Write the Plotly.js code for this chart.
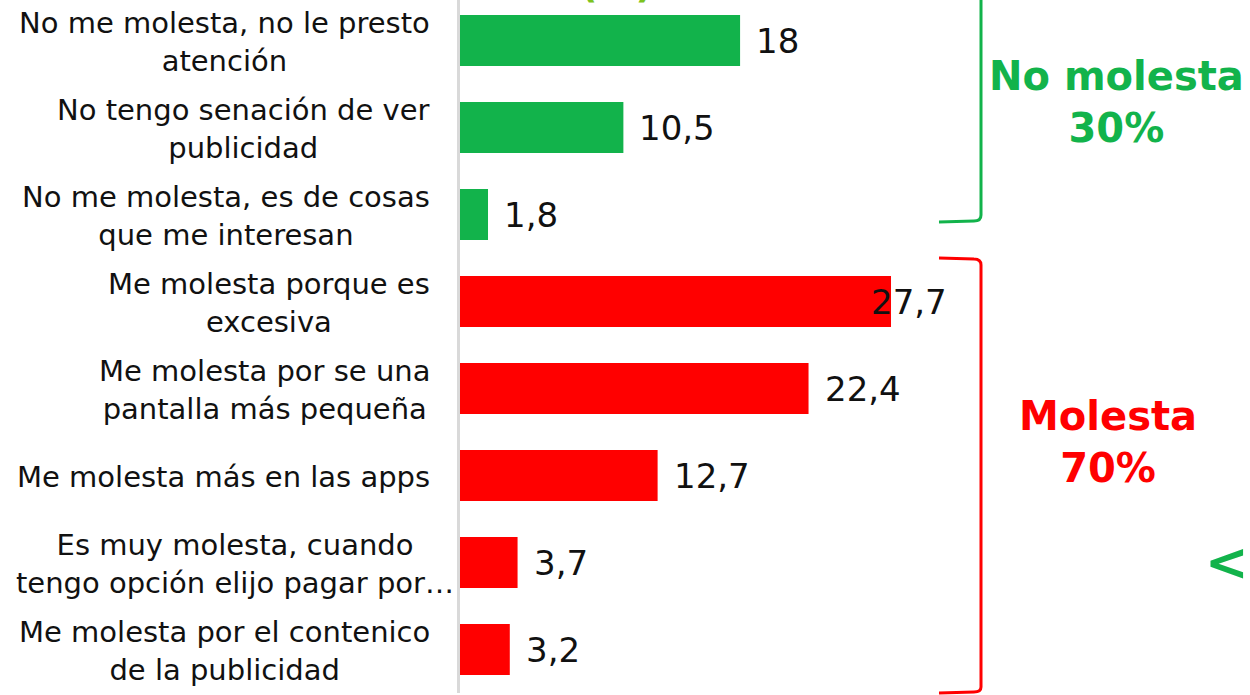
<!DOCTYPE html>
<html>
<head>
<meta charset="utf-8">
<script src="https://cdn.plot.ly/plotly-3.0.1.min.js"></script>
<style>
html,body{margin:0;padding:0;background:#fff;overflow:hidden;}
#chart{width:1250px;height:695px;}
</style>
</head>
<body>
<div id="chart"></div>
<script>
// ---- data ----
const categories = [
  "No me molesta, no le presto<br>atención",
  "No tengo senación de ver<br>publicidad",
  "No me molesta, es de cosas<br>que me interesan",
  "Me molesta porque es<br>excesiva",
  "Me molesta por se una<br>pantalla más pequeña",
  "Me molesta más en las apps",
  "Es muy molesta, cuando<br>tengo opción elijo pagar por…",
  "Me molesta por el contenico<br>de la publicidad"
];
const values = [18, 10.5, 1.8, 27.7, 22.4, 12.7, 3.7, 3.2];
const groups = ["No molesta","No molesta","No molesta","Molesta","Molesta","Molesta","Molesta","Molesta"];
const groupTotals = {"No molesta": "30%", "Molesta": "70%"};
const topTitle = "Total (%)";

// ---- styles ----
const GREEN = "#12b34b", RED = "#ff0000", LIGHTGREEN = "#7cc31e";
const W = 1250, H = 695;
const M = {l: 460, r: 0, t: 0, b: 2};
const PW = W - M.l - M.r, PH = H - M.t - M.b;
const px = x => (x - M.l) / PW;      // pixel -> paper x
const py = y => (M.t + PH - y) / PH; // pixel -> paper y

const colors = groups.map(g => g === "Molesta" ? RED : GREEN);
const fmt = v => String(v).replace(".", ",");
const maxVal = Math.max(...values);

const trace = {
  type: "bar",
  orientation: "h",
  x: values,
  y: categories,
  marker: {color: colors, line: {width: 0}},
  hoverinfo: "none"
};

const annotations = [];
// value labels
values.forEach((v, i) => {
  annotations.push({
    x: v, y: categories[i], xref: "x", yref: "y",
    text: fmt(v), showarrow: false, xanchor: "left", yanchor: "middle",
    xshift: v === maxVal ? -22 : 14,
    font: {family: "DejaVu Sans", size: 34, color: "#111"}
  });
});
// category labels (centered lines, right aligned block)
categories.forEach((c, i) => {
  const overflow = c.indexOf("…") >= 0;
  annotations.push({
    x: 0, y: c, xref: "paper", yref: "y",
    text: c, showarrow: false, xanchor: "right", yanchor: "middle", align: "center",
    xshift: overflow ? -4 : -28, yshift: -1,
    font: {family: "DejaVu Sans", size: 29, color: "#111"}
  });
});
// group labels
annotations.push({
  x: px(1116), y: py(102), xref: "paper", yref: "paper",
  text: "<b>No molesta<br>" + groupTotals["No molesta"] + "</b>", showarrow: false,
  xanchor: "center", yanchor: "middle", align: "center",
  font: {family: "DejaVu Sans", size: 40, color: GREEN}
});
annotations.push({
  x: px(1108), y: py(442), xref: "paper", yref: "paper",
  text: "<b>Molesta<br>" + groupTotals["Molesta"] + "</b>", showarrow: false,
  xanchor: "center", yanchor: "middle", align: "center",
  font: {family: "DejaVu Sans", size: 40, color: RED}
});
annotations.push({
  x: px(1203), y: py(562), xref: "paper", yref: "paper",
  text: "<b>&lt;</b>", showarrow: false, xanchor: "left", yanchor: "middle",
  font: {family: "DejaVu Sans", size: 52, color: GREEN}
});
// cut-off title at top
annotations.push({
  x: px(655), y: 1, xref: "paper", yref: "paper",
  text: "<b>" + topTitle + "</b>", showarrow: false, xanchor: "right", yanchor: "bottom",
  yshift: -8,
  font: {family: "DejaVu Sans", size: 38, color: LIGHTGREEN}
});

const shapes = [
  { // green bracket
    type: "path", xref: "paper", yref: "paper",
    path: `M ${px(981)} ${py(-10)} L ${px(981)} ${py(215)} Q ${px(981)} ${py(221)} ${px(974)} ${py(221)} L ${px(939)} ${py(222)}`,
    line: {color: GREEN, width: 3}
  },
  { // red bracket
    type: "path", xref: "paper", yref: "paper",
    path: `M ${px(939)} ${py(258)} L ${px(974)} ${py(259)} Q ${px(981)} ${py(259)} ${px(981)} ${py(265)} L ${px(981)} ${py(687)} Q ${px(981)} ${py(692)} ${px(974)} ${py(692)} L ${px(939)} ${py(693)}`,
    line: {color: RED, width: 3}
  }
];

const layout = {
  width: W, height: H,
  margin: M,
  paper_bgcolor: "#fff", plot_bgcolor: "#fff",
  showlegend: false,
  bargap: 0.414,
  xaxis: {range: [0, PW / 15.56], visible: false, fixedrange: true},
  yaxis: {
    type: "category", categoryorder: "array", categoryarray: categories,
    range: [7.5, 7.5 - PH / 87],
    showticklabels: false, ticks: "", showgrid: false, zeroline: false,
    showline: true, linecolor: "#d9d9d9", linewidth: 3, fixedrange: true
  },
  annotations: annotations,
  shapes: shapes
};

Plotly.newPlot("chart", [trace], layout, {displayModeBar: false, staticPlot: true});
</script>
</body>
</html>
